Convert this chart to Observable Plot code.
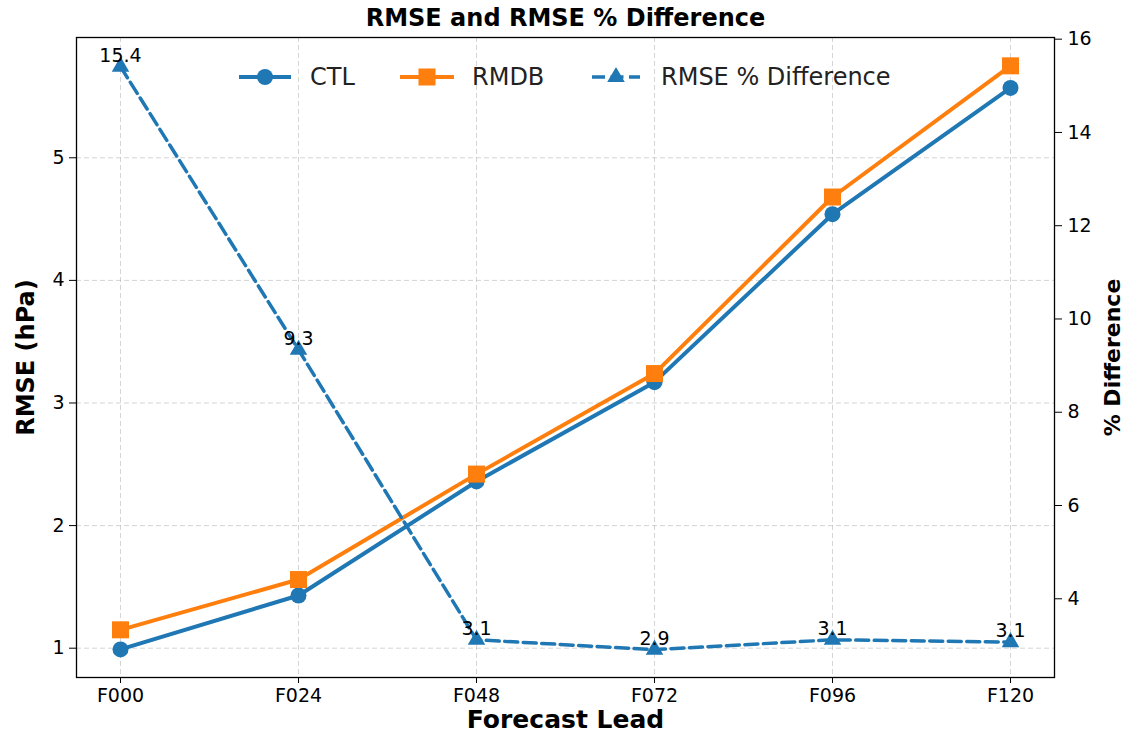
<!DOCTYPE html>
<html><head><meta charset="utf-8">
<script src="https://cdn.jsdelivr.net/npm/d3@7"></script>
<script src="https://cdn.jsdelivr.net/npm/@observablehq/plot@0.6"></script>
<style>
body{margin:0;background:#fff;font-family:"DejaVu Sans";}
#wrap{position:relative;width:1126px;height:733px;overflow:hidden;}
#legend{position:absolute;left:0;top:0;pointer-events:none;}
</style>
</head><body>
<div id="wrap"></div>
<script>
// ---- data ----
const leads = ["F000", "F024", "F048", "F072", "F096", "F120"];
const ctl = [0.99, 1.43, 2.36, 3.17, 4.54, 5.57];
const rmdb = [1.15, 1.56, 2.42, 3.24, 4.68, 5.75];
const pctDiff = [15.41, 9.34, 3.12, 2.91, 3.12, 3.07];
const rmseTicks = [1, 2, 3, 4, 5];
const pctTicks = [4, 6, 8, 10, 12, 14, 16];
const rmseDomain = [0.761, 5.981];
const pctDomain = [2.312, 16.036];
const seriesNames = ["CTL", "RMDB", "RMSE % Difference"];
const blue = "#1f77b4", orange = "#ff7f0e";

// map the right (% difference) axis into the left RMSE scale
const toLeft = d3.scaleLinear().domain(pctDomain).range(rmseDomain);
const rows = leads.map((lead, i) => ({lead, ctl: ctl[i], rmdb: rmdb[i], pct: pctDiff[i], pctY: toLeft(pctDiff[i])}));

const gridStyle = {stroke: "#b0b0b0", strokeOpacity: 0.55, strokeDasharray: "5,3", strokeWidth: 1};

const chart = Plot.plot({
  width: 1126, height: 733,
  marginLeft: 76, marginRight: 72, marginTop: 37, marginBottom: 56,
  style: {fontFamily: "DejaVu Sans", color: "#000", background: "#fff", overflow: "visible"},
  x: {type: "point", domain: leads, padding: 0, insetLeft: 44, insetRight: 44},
  y: {domain: rmseDomain},
  marks: [
    Plot.gridX(leads, gridStyle),
    Plot.gridY(rmseTicks, gridStyle),
    Plot.axisX(leads, {tickSize: 6, tickPadding: 5, fontSize: 19, label: null}),
    Plot.axisY(rmseTicks, {anchor: "left", tickSize: 7, tickPadding: 5, fontSize: 19, label: null, tickFormat: d => String(d)}),
    Plot.axisY(pctTicks.map(toLeft), {anchor: "right", tickSize: 7, tickPadding: 6, fontSize: 19, label: null,
      tickFormat: d => String(Math.round(toLeft.invert(d)))}),
    Plot.frame({stroke: "#000", strokeWidth: 1.3}),
    Plot.line(rows, {x: "lead", y: "ctl", stroke: blue, strokeWidth: 4}),
    Plot.dot(rows, {x: "lead", y: "ctl", r: 8, fill: blue, symbol: "circle"}),
    Plot.line(rows, {x: "lead", y: "rmdb", stroke: orange, strokeWidth: 4}),
    Plot.dot(rows, {x: "lead", y: "rmdb", r: 9.6, fill: orange, symbol: "square"}),
    Plot.line(rows, {x: "lead", y: "pctY", stroke: blue, strokeWidth: 3.5, strokeDasharray: "13,5.5"}),
    Plot.dot(rows, {x: "lead", y: "pctY", r: 6.5, fill: blue, symbol: "triangle"}),
    Plot.text(rows, {x: "lead", y: "pctY", text: d => d.pct.toFixed(1), dy: -11, fontSize: 19, fill: "#000"}),
    Plot.text(["RMSE and RMSE % Difference"], {frameAnchor: "top", lineAnchor: "middle", textAnchor: "middle", dy: -19, fontSize: 24, fontWeight: "bold"}),
    Plot.text(["Forecast Lead"], {frameAnchor: "bottom", lineAnchor: "middle", textAnchor: "middle", dy: 42, fontSize: 25, fontWeight: "bold"}),
    Plot.text(["RMSE (hPa)"], {frameAnchor: "left", lineAnchor: "middle", textAnchor: "middle", rotate: -90, dx: -50, fontSize: 24, fontWeight: "bold"}),
    Plot.text(["% Difference"], {frameAnchor: "right", lineAnchor: "middle", textAnchor: "middle", rotate: -90, dx: 58, fontSize: 22, fontWeight: "bold"})
  ]
});
document.getElementById("wrap").appendChild(chart);

// ---- legend (inside the plot, top) ----
const leg = d3.select("#wrap").append("svg").attr("id", "legend").attr("width", 1126).attr("height", 733);
const items = [
  {name: seriesNames[0], color: blue, sym: d3.symbolCircle, size: Math.PI * 64, x0: 239, x1: 291, mx: 265, tx: 310, dash: null, sw: 4},
  {name: seriesNames[1], color: orange, sym: d3.symbolSquare, size: 17 * 17, x0: 400, x1: 454, mx: 427, tx: 472, dash: null, sw: 4},
  {name: seriesNames[2], color: blue, sym: d3.symbolTriangle, size: Math.PI * 6.5 * 6.5, x0: 592, x1: 640, mx: 616, tx: 661, dash: "13,5.5", sw: 3.5}
];
const ly = 77;
for (const it of items) {
  leg.append("line").attr("x1", it.x0).attr("x2", it.x1).attr("y1", ly).attr("y2", ly)
    .attr("stroke", it.color).attr("stroke-width", it.sw).attr("stroke-dasharray", it.dash);
  leg.append("path").attr("d", d3.symbol(it.sym, it.size)()).attr("transform", `translate(${it.mx},${ly})`).attr("fill", it.color);
  leg.append("text").attr("x", it.tx).attr("y", ly).attr("dy", "0.35em").attr("font-size", 24)
    .attr("font-family", "DejaVu Sans").attr("fill", "#222").text(it.name);
}
</script>
</body></html>
